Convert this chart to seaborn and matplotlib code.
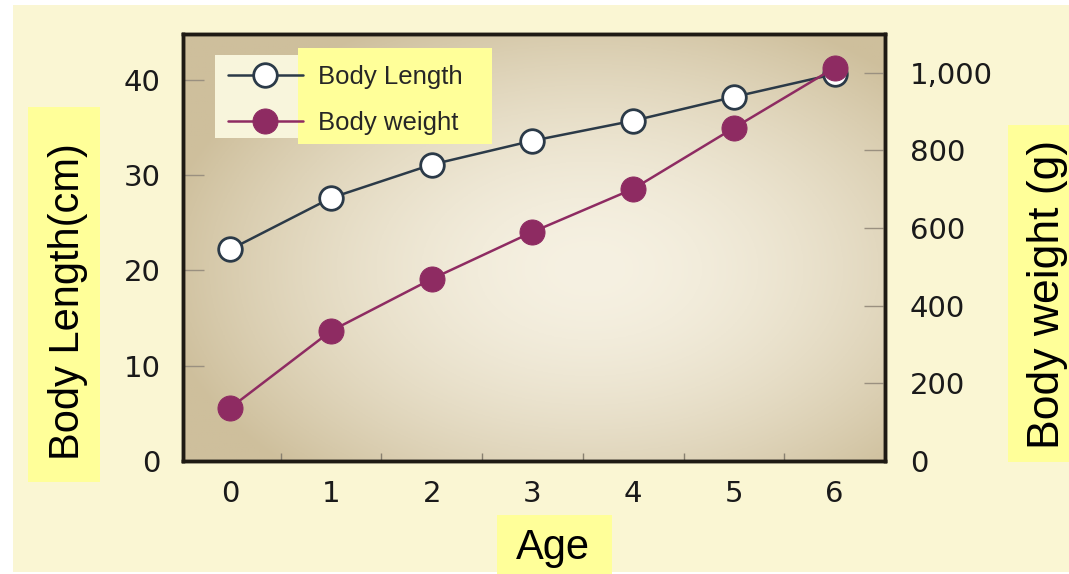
import numpy as np
import matplotlib
matplotlib.use('Agg')
import matplotlib.pyplot as plt
import seaborn as sns
from matplotlib.patches import Rectangle
from matplotlib.ticker import FuncFormatter, MultipleLocator

ages = [0, 1, 2, 3, 4, 5, 6]
body_length = [22.2, 27.6, 31.1, 33.6, 35.7, 38.2, 40.6]
body_weight = [137, 335, 469, 590, 701, 858, 1013]

W, H = 1069, 574
cream = '#FAF6D3'
yellow = '#FFFF99'
len_color = '#2B3A48'
wt_color = '#8E2B62'

sns.set_style('ticks')
plt.rcParams['font.family'] = ['DejaVu Sans']

fig = plt.figure(figsize=(W / 100, H / 100), dpi=100, facecolor='white')


def px_rect(x0, y0, x1, y1, color, z=0):
    # box given in picture pixels (top-left origin)
    r = Rectangle((x0 / W, 1 - y1 / H), (x1 - x0) / W, (y1 - y0) / H,
                  transform=fig.transFigure, facecolor=color, edgecolor='none', zorder=z)
    fig.add_artist(r)
    return r


px_rect(13, 5, 1069, 572, cream, z=-10)
px_rect(28, 107, 100, 482, yellow, z=-5)
px_rect(1008, 125, 1069, 462, yellow, z=-5)
px_rect(497, 515, 612, 574, yellow, z=-5)

ax = fig.add_axes([183 / W, 1 - 461 / H, 702 / W, 427 / H])
ax.set_facecolor('none')

# radial gradient background of plot area
gx, gy = np.meshgrid(np.linspace(0, 1, 300), np.linspace(0, 1, 200))
d = np.sqrt(((gx - 0.58) / 0.62) ** 2 + ((gy - 0.55) / 0.65) ** 2)
t = np.clip(d, 0, 1) ** 1.7
c_in = np.array([246, 241, 226]) / 255
c_out = np.array([206, 191, 156]) / 255
img = c_in[None, None, :] * (1 - t[..., None]) + c_out[None, None, :] * t[..., None]
ax.imshow(img, extent=[0, 1, 0, 1], transform=ax.transAxes, aspect='auto', zorder=0)

sns.lineplot(x=ages, y=body_length, ax=ax, color=len_color, linewidth=1.8, marker='o',
             markersize=17, markerfacecolor='white', markeredgecolor=len_color,
             markeredgewidth=2, zorder=3, label='Body Length', legend=False)

ax2 = ax.twinx()
sns.lineplot(x=ages, y=body_weight, ax=ax2, color=wt_color, linewidth=1.8, marker='o',
             markersize=18, markerfacecolor=wt_color, markeredgecolor=wt_color,
             zorder=3, label='Body weight', legend=False)

ax.set_xlim(-0.47, 6.5)
ax.set_ylim(0, 44.8)
ax2.set_ylim(0, 1100)

ax.set_xticks(ages)
ax.xaxis.set_minor_locator(MultipleLocator(1, offset=0.5))
ax.set_yticks([0, 10, 20, 30, 40])
ax2.set_yticks([0, 200, 400, 600, 800, 1000])
ax2.yaxis.set_major_formatter(FuncFormatter(lambda v, p: f'{int(v):,}'))

tick_font = dict(labelsize=21, labelcolor='#1a1a1a')
ax.tick_params(axis='x', which='major', length=0, pad=14, **tick_font)
ax.tick_params(axis='x', which='minor', direction='in', length=6, color='#888070', width=1)
ax.tick_params(axis='y', direction='in', length=15, color='#9a9080', width=1, pad=16, **tick_font)
ax2.tick_params(axis='y', direction='in', length=15, color='#9a9080', width=1, pad=18, **tick_font)
ax.set_xlabel('')
ax.set_ylabel('')
ax2.set_ylabel('')

for a in (ax, ax2):
    for s in a.spines.values():
        s.set_color('#1e1a14')
        s.set_linewidth(2.5)

# legend boxes
px_rect(215, 55, 298, 138, '#F8F5DC', z=1)
px_rect(298, 48, 492, 144, yellow, z=1)
h1, l1 = ax.get_legend_handles_labels()
h2, l2 = ax2.get_legend_handles_labels()
leg = fig.legend(h1 + h2, l1 + l2, loc='center left', bbox_to_anchor=(228 / W, 1 - 100 / H),
                 bbox_transform=fig.transFigure, frameon=False, borderpad=0, borderaxespad=0,
                 handlelength=2.9, handletextpad=0.6, labelspacing=0.83,
                 prop={'family': 'Liberation Sans', 'size': 18.5})
leg.set_zorder(10)

lab = dict(family='Liberation Sans', color='black', ha='center', va='center')
fig.text(68 / W, 1 - 302 / H, 'Body Length(cm)', rotation=90, fontsize=30, **lab)
fig.text(1047 / W, 1 - 294 / H, 'Body weight (g)', rotation=90, fontsize=32, **lab)
fig.text(553 / W, 1 - 548 / H, 'Age', fontsize=30, **lab)

fig.savefig('out.png', dpi=100, facecolor=fig.get_facecolor())
